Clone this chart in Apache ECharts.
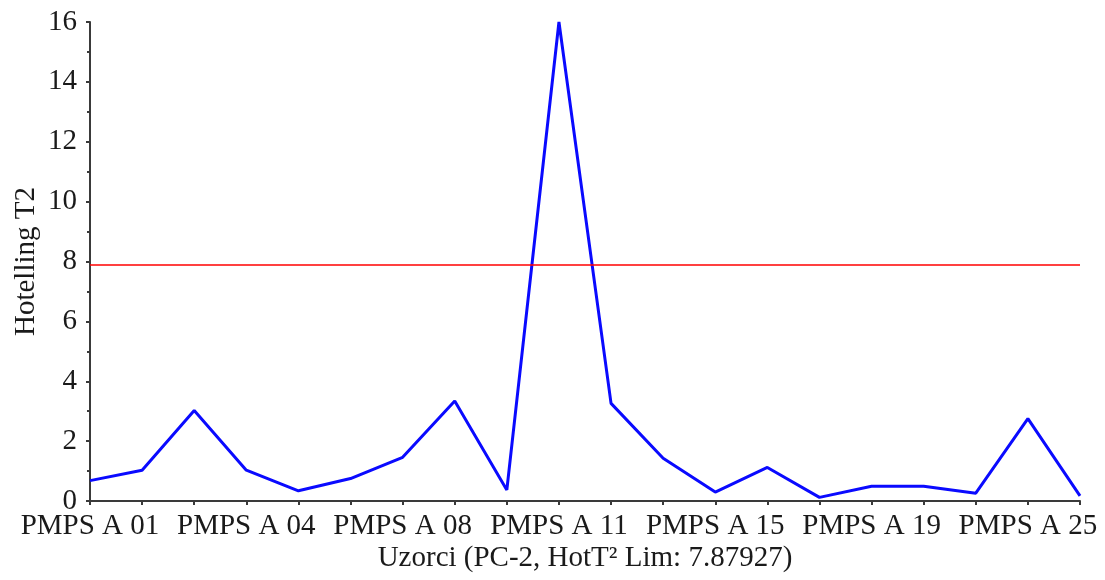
<!DOCTYPE html>
<html>
<head>
<meta charset="utf-8">
<script src="https://cdn.jsdelivr.net/npm/echarts@6/dist/echarts.min.js"></script>
<style>html,body{margin:0;padding:0;background:#fff}#c{width:1105px;height:580px}</style>
</head>
<body>
<div id="c"></div>
<script>
const categories = ["PMPS A 01","PMPS A 02","PMPS A 03","PMPS A 04","PMPS A 05","PMPS A 07","PMPS A 08","PMPS A 09","PMPS A 10","PMPS A 11","PMPS A 12","PMPS A 14","PMPS A 15","PMPS A 16","PMPS A 18","PMPS A 19","PMPS A 21","PMPS A 23","PMPS A 25","PMPS A 26"];
const hotellingT2 = [0.68,1.03,3.02,1.03,0.34,0.75,1.46,3.34,0.37,16.0,3.26,1.43,0.30,1.12,0.12,0.49,0.49,0.26,2.75,0.17];
const limit = 7.87927;
const yTicks = {min: 0, max: 16, interval: 2};
const xName = "Uzorci (PC-2, HotT\u00B2 Lim: 7.87927)";
const yName = "Hotelling T2";

const font = "'Liberation Serif', 'Times New Roman', serif";
const axisColor = '#3a3a3a';
const chart = echarts.init(document.getElementById('c'), null, {renderer: 'canvas'});
chart.setOption({
  animation: false,
  backgroundColor: '#fff',
  grid: {left: 90, right: 25, top: 22, bottom: 79, containLabel: false, outerBoundsMode: 'none'},
  xAxis: {
    type: 'category',
    data: categories,
    boundaryGap: false,
    name: xName,
    nameLocation: 'middle',
    nameGap: 43,
    nameMoveOverlap: false,
    nameTextStyle: {fontFamily: font, fontSize: 29, color: '#1a1a1a'},
    axisLine: {lineStyle: {color: axisColor, width: 2}},
    axisTick: {show: true, interval: 0, length: 4, lineStyle: {color: axisColor, width: 2}},
    axisLabel: {interval: 2, margin: 11, fontFamily: font, fontSize: 29, color: '#1a1a1a'},
    splitLine: {show: false}
  },
  yAxis: {
    type: 'value',
    min: yTicks.min, max: yTicks.max, interval: yTicks.interval,
    name: yName,
    nameLocation: 'middle',
    nameGap: 49,
    nameMoveOverlap: false,
    nameTextStyle: {fontFamily: font, fontSize: 29, color: '#1a1a1a'},
    axisLine: {show: true, lineStyle: {color: axisColor, width: 2}},
    axisTick: {show: true, length: 4, lineStyle: {color: axisColor, width: 2}},
    minorTick: {show: true, splitNumber: 2, length: 3, lineStyle: {color: axisColor, width: 2}},
    axisLabel: {margin: 13, fontFamily: font, fontSize: 29, color: '#1a1a1a'},
    splitLine: {show: false}
  },
  series: [{
    type: 'line',
    data: hotellingT2,
    symbol: 'none',
    lineStyle: {color: '#0a0aff', width: 3},
    markLine: {
      silent: true,
      symbol: ['none', 'none'],
      label: {show: false},
      lineStyle: {color: '#ff0000', width: 1.5, type: 'solid', opacity: 1},
      emphasis: {disabled: true},
      data: [{yAxis: limit, lineStyle: {color: '#ff0000', width: 1.5, type: 'solid'}}]
    }
  }]
});
</script>
</body>
</html>
